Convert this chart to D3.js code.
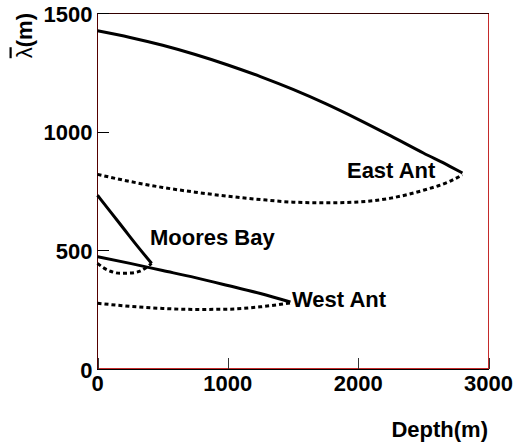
<!DOCTYPE html>
<html>
<head>
<meta charset="utf-8">
<script src="https://cdn.jsdelivr.net/npm/d3@7"></script>
<style>
  body { margin: 0; background: #fff; }
  text { font-family: "Liberation Sans", Arial, sans-serif; font-weight: bold; }
</style>
</head>
<body>
<svg id="chart" width="516" height="443"></svg>
<script>
// depth (m) and attenuation length (m)
var eastDepth = [0, 250, 500, 750, 1000, 1250, 1500, 1750, 2000, 2250, 2500, 2700, 2800];
var eastSolid = [1425, 1397, 1364, 1325, 1281, 1232, 1178, 1118, 1052, 982, 910, 855, 826];
var eastDashed = [820, 790, 765, 745, 728, 714, 703, 700, 704, 720, 753, 790, 818];

var mooresDepth = [0, 100, 200, 300, 415];
var mooresSolid = [732, 662, 592, 522, 445];
var mooresDashDepth = [0, 50, 100, 175, 250, 325, 415];
var mooresDashed = [445, 425, 412, 403, 404, 412, 445];

var westDepth = [0, 250, 500, 750, 1000, 1250, 1480];
var westSolid = [473, 445, 415, 385, 352, 318, 282];
var westDashed = [277, 264, 255, 251, 252, 262, 278];

var xTicks = [0, 1000, 2000, 3000];
var yTicks = [0, 500, 1000, 1500];

var labels = [
  { text: "East Ant", depth: 1914, value: 805 },
  { text: "Moores Bay", depth: 403, value: 522 },
  { text: "West Ant", depth: 1492, value: 261 }
];

var svg = d3.select("#chart");

var x = d3.scaleLinear().domain([0, 3000]).range([97.5, 488.5]);
var y = d3.scaleLinear().domain([0, 1500]).range([369, 13]);

function zip(xs, ys) {
  return xs.map(function (d, i) { return [d, ys[i]]; });
}

// frame
svg.append("rect")
  .attr("x", 97.5).attr("y", 13.5)
  .attr("width", 391).attr("height", 355)
  .style("fill", "none")
  .style("stroke", "#c42a2a");
svg.append("line")
  .attr("x1", 97).attr("x2", 489).attr("y1", 13.5).attr("y2", 13.5)
  .style("stroke", "#300");
svg.append("line")
  .attr("x1", 97.5).attr("x2", 97.5).attr("y1", 13).attr("y2", 370)
  .style("stroke", "#500");
svg.append("line")
  .attr("x1", 97).attr("x2", 489).attr("y1", 369.5).attr("y2", 369.5)
  .style("stroke", "#000");

// ticks (inside the frame)
svg.selectAll("line.xtick")
  .data(xTicks)
  .enter()
  .append("line")
  .attr("class", "xtick")
  .attr("x1", function (d) { return Math.round(x(d)) + 0.5; })
  .attr("x2", function (d) { return Math.round(x(d)) + 0.5; })
  .attr("y1", 369).attr("y2", 358)
  .style("stroke", "#333");

svg.selectAll("line.ytick")
  .data(yTicks)
  .enter()
  .append("line")
  .attr("class", "ytick")
  .attr("x1", 97.5).attr("x2", 109)
  .attr("y1", function (d) { return Math.round(y(d)) + 0.5; })
  .attr("y2", function (d) { return Math.round(y(d)) + 0.5; })
  .style("stroke", "#000");

// tick labels
svg.selectAll("text.xlab")
  .data(xTicks)
  .enter()
  .append("text")
  .attr("class", "xlab")
  .attr("x", function (d) { return x(d); })
  .attr("y", 391)
  .attr("text-anchor", "middle")
  .attr("font-size", "22px")
  .attr("fill", "#000")
  .text(function (d) { return d; });

svg.selectAll("text.ylab")
  .data(yTicks)
  .enter()
  .append("text")
  .attr("class", "ylab")
  .attr("x", 92.5)
  .attr("y", function (d) { return y(d) + 8.5; })
  .attr("text-anchor", "end")
  .attr("font-size", "22px")
  .attr("fill", "#000")
  .text(function (d) { return d; });

// axis titles
svg.append("text")
  .attr("x", 488)
  .attr("y", 437)
  .attr("text-anchor", "end")
  .attr("font-size", "22px")
  .text("Depth(m)");

var ytitle = svg.append("text")
  .attr("transform", "translate(31.5,13) rotate(-90)")
  .attr("text-anchor", "end")
  .attr("font-size", "22px");
ytitle.append("tspan")
  .style("font-weight", "normal")
  .style("text-decoration", "overline")
  .text("λ");
ytitle.append("tspan").text("(m)");

// curves
var line = d3.line()
  .x(function (d) { return x(d[0]); })
  .y(function (d) { return y(d[1]); })
  .curve(d3.curveMonotoneX);

var curves = [
  { pts: zip(eastDepth, eastSolid), dashed: false },
  { pts: zip(eastDepth, eastDashed), dashed: true },
  { pts: zip(mooresDepth, mooresSolid), dashed: false },
  { pts: zip(mooresDashDepth, mooresDashed), dashed: true },
  { pts: zip(westDepth, westSolid), dashed: false },
  { pts: zip(westDepth, westDashed), dashed: true }
];

svg.selectAll("path.curve")
  .data(curves)
  .enter()
  .append("path")
  .attr("class", "curve")
  .attr("d", function (d) { return line(d.pts); })
  .style("fill", "none")
  .style("stroke", "#000")
  .style("stroke-width", 3)
  .style("stroke-dasharray", function (d) { return d.dashed ? "4,3" : null; });

// curve labels
svg.selectAll("text.clab")
  .data(labels)
  .enter()
  .append("text")
  .attr("class", "clab")
  .attr("x", function (d) { return x(d.depth); })
  .attr("y", function (d) { return y(d.value); })
  .attr("font-size", "22px")
  .text(function (d) { return d.text; });
</script>
</body>
</html>
